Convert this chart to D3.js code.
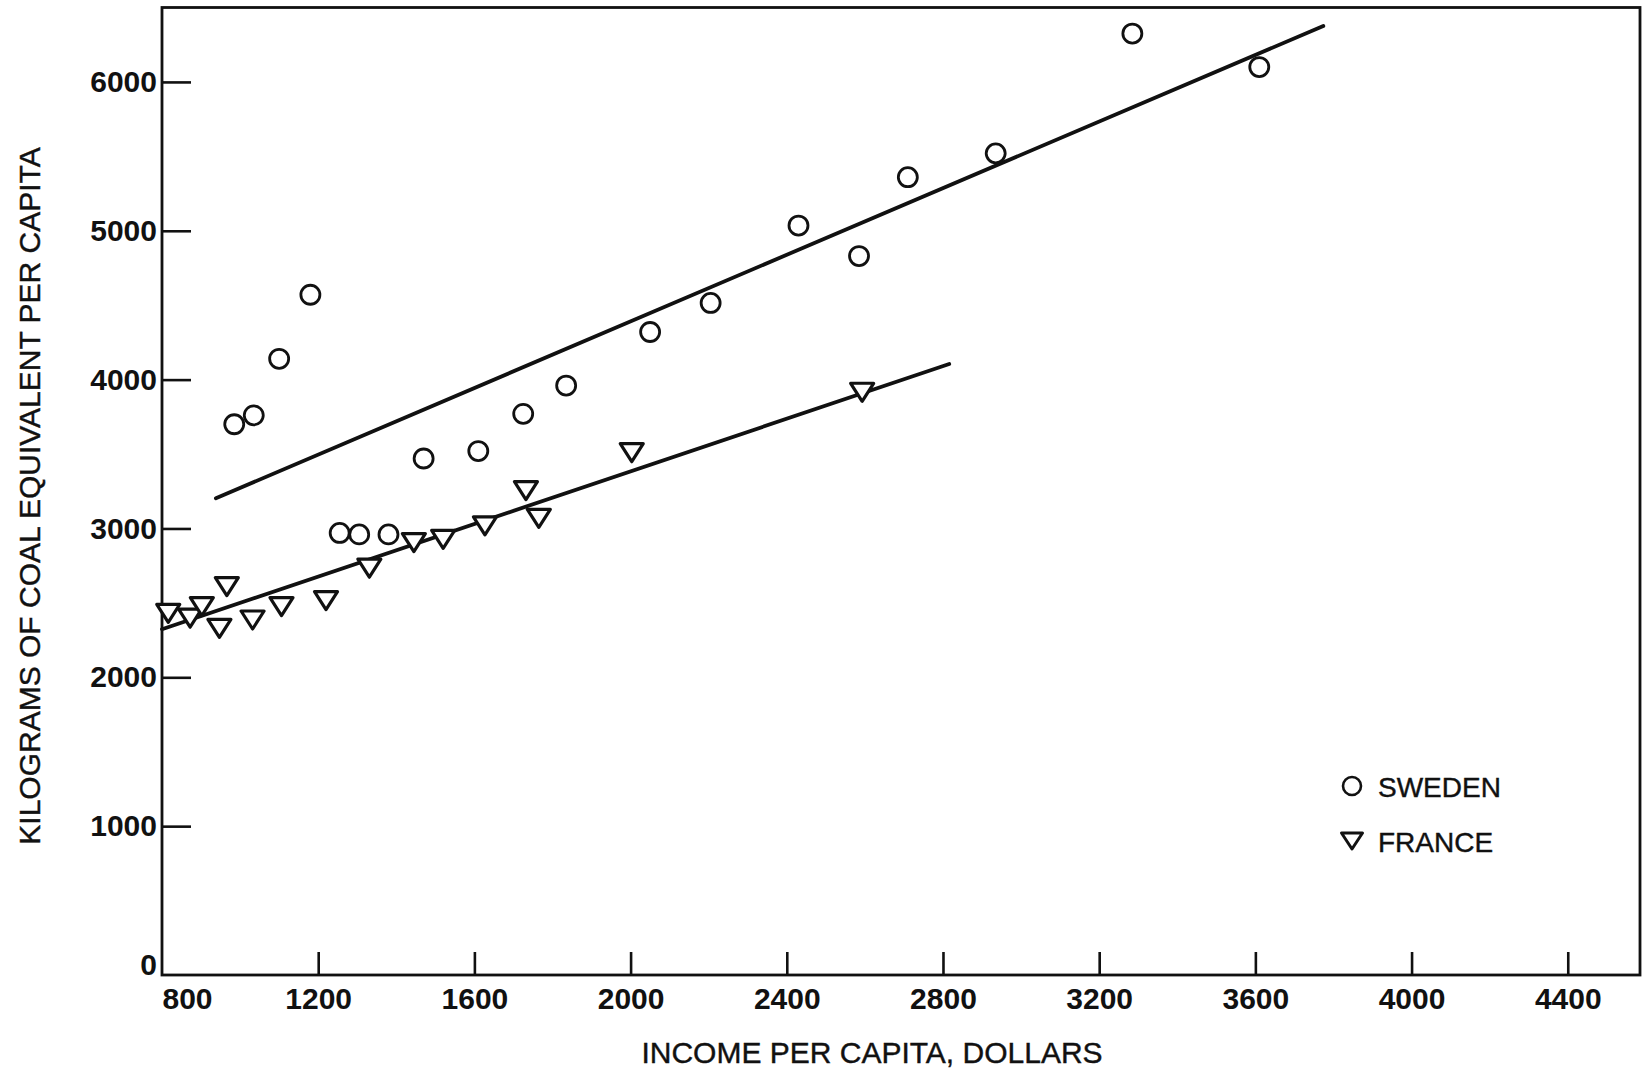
<!DOCTYPE html>
<html>
<head>
<meta charset="utf-8">
<script src="https://cdn.jsdelivr.net/npm/d3@7/dist/d3.min.js"></script>
<style>
  html, body { margin: 0; padding: 0; background: #fff; }
  svg { display: block; }
  .tick text { font-family: "Liberation Sans", Arial, sans-serif; font-weight: bold; font-size: 30px; fill: #111; }
  .title { font-family: "Liberation Sans", Arial, sans-serif; font-size: 30px; fill: #111; stroke: #111; stroke-width: 0.4px; }
  .legend text { font-family: "Liberation Sans", Arial, sans-serif; font-size: 28px; fill: #111; stroke: #111; stroke-width: 0.4px; }
</style>
</head>
<body>
<svg id="chart" width="1645" height="1076"></svg>
<script>
// Income per capita (dollars) and energy use (kg coal equivalent per capita)
const swedenIncome = [985, 1035, 1100, 1180, 1255, 1305, 1380, 1470, 1610, 1725, 1835, 2050, 2205, 2430, 2585, 2710, 2935, 3285, 3610];
const swedenEnergy = [3700, 3760, 4140, 4570, 2970, 2960, 2960, 3470, 3520, 3770, 3960, 4320, 4515, 5035, 4830, 5360, 5520, 6325, 6100];

const franceIncome = [816, 872, 902, 947, 966, 1032, 1106, 1220, 1331, 1445, 1520, 1627, 1732, 1765, 2003, 2593];
const franceEnergy = [2430, 2397, 2475, 2329, 2609, 2385, 2475, 2515, 2733, 2905, 2927, 3017, 3254, 3068, 3509, 3915];

// Fitted trend lines: [income, energy] at each end
const swedenFit = [[938, 3203], [3774, 6376]];
const franceFit = [[800, 2323], [2816, 4105]];

const xTicks = [800, 1200, 1600, 2000, 2400, 2800, 3200, 3600, 4000, 4400];
const yTicks = [0, 1000, 2000, 3000, 4000, 5000, 6000];

const legendItems = ["SWEDEN", "FRANCE"];

const ink = "#111";
const svg = d3.select("#chart");

const plotLeft = 162, plotRight = 1640, plotTop = 7.5, plotBottom = 975;
const x = d3.scaleLinear().domain([800, 4585]).range([plotLeft, plotRight]);
const y = d3.scaleLinear().domain([0, 6500]).range([plotBottom, plotTop]);

// Axes with inward ticks
const gx = svg.append("g")
  .attr("transform", `translate(0,${plotBottom})`)
  .call(d3.axisBottom(x).tickValues(xTicks).tickSize(-23).tickPadding(13).tickFormat(d3.format("d")));
gx.select(".domain").remove();
gx.selectAll(".tick line").attr("stroke", ink).attr("stroke-width", 2.6);
gx.selectAll(".tick").filter(d => d === 800).each(function () {
  d3.select(this).select("line").remove();
  d3.select(this).select("text").attr("text-anchor", "start").attr("x", 0);
});

const gy = svg.append("g")
  .attr("transform", `translate(${plotLeft},0)`)
  .call(d3.axisLeft(y).tickValues(yTicks).tickSize(-29).tickPadding(5).tickFormat(d3.format("d")));
gy.select(".domain").remove();
gy.selectAll(".tick line").attr("stroke", ink).attr("stroke-width", 2.6);
gy.selectAll(".tick").filter(d => d === 0).each(function () {
  d3.select(this).select("line").remove();
  d3.select(this).select("text").attr("y", -10);
});

// Plot frame
svg.append("rect")
  .attr("x", plotLeft).attr("y", plotTop)
  .attr("width", plotRight - plotLeft).attr("height", plotBottom - plotTop)
  .attr("fill", "none").attr("stroke", ink).attr("stroke-width", 2.8);

// Axis titles
svg.append("text").attr("class", "title")
  .attr("x", 872).attr("y", 1063).attr("text-anchor", "middle")
  .text("INCOME PER CAPITA, DOLLARS");
svg.append("text").attr("class", "title")
  .attr("transform", "translate(40,496) rotate(-90)")
  .attr("text-anchor", "middle")
  .text("KILOGRAMS OF COAL EQUIVALENT PER CAPITA");

// Trend lines
const line = d3.line().x(d => x(d[0])).y(d => y(d[1]));
[swedenFit, franceFit].forEach(fit => {
  svg.append("path").attr("d", line(fit))
    .attr("fill", "none").attr("stroke", ink).attr("stroke-width", 3.8).attr("stroke-linecap", "round");
});

// Downward triangle marker centred on its bounding box
function triangle(w, h) {
  return `M${-w / 2},${-h / 2}L${w / 2},${-h / 2}L0,${h / 2}Z`;
}

const sweden = swedenIncome.map((v, i) => [v, swedenEnergy[i]]);
const france = franceIncome.map((v, i) => [v, franceEnergy[i]]);

svg.append("g").selectAll("path").data(france).join("path")
  .attr("transform", d => `translate(${x(d[0])},${y(d[1])})`)
  .attr("d", triangle(23, 18))
  .attr("fill", "#fff").attr("stroke", ink).attr("stroke-width", 3.2).attr("stroke-linejoin", "round");

svg.append("g").selectAll("circle").data(sweden).join("circle")
  .attr("cx", d => x(d[0])).attr("cy", d => y(d[1])).attr("r", 9.5)
  .attr("fill", "none").attr("stroke", ink).attr("stroke-width", 2.8);

// Legend
const legend = svg.append("g").attr("class", "legend");
legendItems.forEach((name, i) => {
  const cy = 786 + i * 55;
  if (i === 0) {
    legend.append("circle").attr("cx", 1352).attr("cy", cy).attr("r", 9)
      .attr("fill", "none").attr("stroke", ink).attr("stroke-width", 2.6);
  } else {
    legend.append("path").attr("transform", `translate(1352,${cy})`).attr("d", triangle(21, 16))
      .attr("fill", "none").attr("stroke", ink).attr("stroke-width", 3).attr("stroke-linejoin", "round");
  }
  legend.append("text").attr("x", 1378).attr("y", cy + 11).text(name);
});
</script>
</body>
</html>
